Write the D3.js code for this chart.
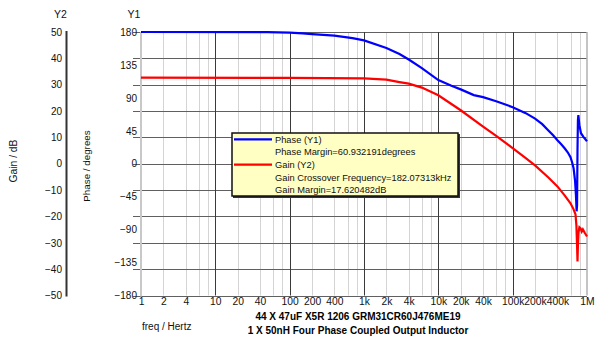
<!DOCTYPE html>
<html><head><meta charset="utf-8">
<script src="https://cdn.jsdelivr.net/npm/d3@7"></script>
<style>
html,body{margin:0;padding:0;background:#fff;}
svg{display:block;font-family:"Liberation Sans",Arial,sans-serif;}
</style></head>
<body>
<svg id="chart" width="600" height="340"></svg>
<script>
// ---- data ----
const phaseFreq = [1, 50, 100, 150, 200, 400, 700, 1e3, 2e3, 3e3, 4e3, 6e3, 1e4, 1.5e4, 2e4, 3e4, 4e4, 6e4, 1e5, 1.5e5, 2e5, 2.5e5, 3e5, 3.5e5, 4e5, 4.5e5, 5e5, 5.5e5, 6e5, 6.3e5, 6.6e5, 6.9e5, 7.1e5, 7.25e5, 7.35e5, 7.45e5, 7.55e5, 7.65e5, 7.9e5, 8.3e5, 9e5, 1e6];
const phaseDeg  = [180, 179.8, 179.1, 178, 177.1, 175, 171.6, 168.6, 158.1, 149.9, 142.4, 130.7, 114.3, 106.5, 101.6, 93.8, 91, 85.5, 77.3, 69.1, 61.6, 54.1, 45.8, 39, 32.2, 26.7, 21.2, 15.7, 8.9, 2.0, -6.2, -22.6, -43.1, -65, -56.8, 18.5, 59.5, 66.4, 52.7, 41.7, 36.3, 30.8];
const gainFreq = [1, 100, 1e3, 2e3, 3e3, 4e3, 6e3, 1e4, 2e4, 4e4, 6e4, 1e5, 1.5e5, 2e5, 3e5, 4e5, 5e5, 6e5, 6.6e5, 7e5, 7.2e5, 7.35e5, 7.45e5, 7.55e5, 7.7e5, 7.9e5, 8.2e5, 8.5e5, 8.8e5, 9.4e5, 1e6];
const gainDb   = [32.7, 32.6, 32.4, 31.9, 31.0, 30.4, 28.9, 26.0, 20.3, 14.1, 10.6, 5.9, 2.1, -0.6, -5.1, -8.6, -12.0, -15.0, -17.3, -19.2, -23.4, -31.0, -37.1, -31, -26, -24.1, -24.5, -25.7, -24.9, -26.4, -27.6];
const xTickValues = [1, 2, 4, 10, 20, 40, 100, 200, 400, 1e3, 2e3, 4e3, 1e4, 2e4, 4e4, 1e5, 2e5, 4e5, 1e6];
const xTickLabels = ["1","2","4","10","20","40","100","200","400","1k","2k","4k","10k","20k","40k","100k","200k","400k","1M"];
const y1Ticks = [180, 135, 90, 45, 0, -45, -90, -135, -180];
const y2Ticks = [50, 40, 30, 20, 10, 0, -10, -20, -30, -40, -50];
const legendLabels = ["Phase (Y1)", "Phase Margin=60.932191degrees", "Gain (Y2)", "Gain Crossover Frequency=182.07313kHz", "Gain Margin=17.620482dB"];
const legendColors = ["#0000ff", null, "#ff0000", null, null];
const titleLines = ["44 X 47uF X5R 1206 GRM31CR60J476ME19", "1 X 50nH Four Phase Coupled Output Inductor"];

// ---- scales ----
const L = 141, R = 587, T = 32, B = 295.5;
const x = d3.scaleLog().domain([1, 1e6]).range([L, R]);
const y1 = d3.scaleLinear().domain([-180, 180]).range([B, T]);
const y2 = d3.scaleLinear().domain([-50, 50]).range([B, T]);

const svg = d3.select("#chart");

// minor vertical grid (2,4,6,8 per decade)
const minor = [];
for (let d = 1; d < 1e6; d *= 10) [2,4,6,8].forEach(m => minor.push(d*m));
svg.append("g").selectAll("line").data(minor).join("line")
  .attr("x1", d => Math.round(x(d)) + 0.5).attr("x2", d => Math.round(x(d)) + 0.5)
  .attr("y1", T).attr("y2", B)
  .attr("stroke", "#d4d4d4").attr("stroke-width", 1);

// horizontal grid at Y2 ticks
svg.append("g").selectAll("line").data(y2Ticks).join("line")
  .attr("x1", 133).attr("x2", R)
  .attr("y1", d => Math.round(y2(d)) + 0.5).attr("y2", d => Math.round(y2(d)) + 0.5)
  .attr("stroke", "#606060").attr("stroke-width", 1);

// decade vertical grid
const decades = [10, 100, 1e3, 1e4, 1e5];
svg.append("g").selectAll("line").data(decades).join("line")
  .attr("x1", d => Math.round(x(d)) + 0.5).attr("x2", d => Math.round(x(d)) + 0.5)
  .attr("y1", T).attr("y2", B)
  .attr("stroke", "#3a3a3a").attr("stroke-width", 1);
svg.append("line").attr("x1", x(1e6)).attr("x2", x(1e6)).attr("y1", T).attr("y2", B)
  .attr("stroke", "#b0b0b0").attr("stroke-width", 1.5);

// Y1 axis line (light grey)
svg.append("line").attr("x1", L).attr("x2", L).attr("y1", T).attr("y2", B + 1)
  .attr("stroke", "#c8c8c8").attr("stroke-width", 2);

// Y2 axis (dark line + labels)
const y2Axis = svg.append("g").attr("transform", "translate(67,0)")
  .call(d3.axisLeft(y2).tickValues(y2Ticks).tickSize(0).tickPadding(5).tickFormat(d3.format("d")));
y2Axis.select(".domain").remove();
y2Axis.append("line").attr("x1", -0.5).attr("x2", -0.5).attr("y1", T - 1).attr("y2", B + 1)
  .attr("stroke", "#333").attr("stroke-width", 2);
y2Axis.selectAll("text").attr("font-size", "10px").attr("fill", "#111").attr("font-family", null);

// Y1 axis labels
const y1Axis = svg.append("g").attr("transform", "translate(137,0)")
  .call(d3.axisLeft(y1).tickValues(y1Ticks).tickSize(0).tickPadding(0).tickFormat(d3.format("d")));
y1Axis.select(".domain").remove();
y1Axis.selectAll("text").attr("font-size", "10px").attr("fill", "#111").attr("font-family", null);

// X axis labels
const xAxis = svg.append("g").attr("transform", `translate(0,${B})`)
  .call(d3.axisBottom(x).tickValues(xTickValues).tickSize(0).tickPadding(2)
    .tickFormat((d, i) => xTickLabels[i]));
xAxis.select(".domain").remove();
xAxis.selectAll("text").attr("font-size", "10.3px").attr("fill", "#111").attr("font-family", null);

// curves
const phaseData = phaseFreq.map((f, i) => [f, phaseDeg[i]]);
const gainData = gainFreq.map((f, i) => [f, gainDb[i]]);
svg.append("path").datum(gainData)
  .attr("d", d3.line().x(d => x(d[0])).y(d => y2(d[1])))
  .attr("fill", "none").attr("stroke", "#ff0000").attr("stroke-width", 2.2);
svg.append("path").datum(phaseData)
  .attr("d", d3.line().x(d => x(d[0])).y(d => y1(d[1])))
  .attr("fill", "none").attr("stroke", "#0000ff").attr("stroke-width", 2.2);

// axis titles
svg.append("text").attr("x", 60.5).attr("y", 18).attr("text-anchor", "middle")
  .attr("font-size", "10.5px").attr("fill", "#111").text("Y2");
svg.append("text").attr("x", 134).attr("y", 18).attr("text-anchor", "middle")
  .attr("font-size", "10.5px").attr("fill", "#111").text("Y1");
svg.append("text").attr("transform", "translate(17,161) rotate(-90)").attr("text-anchor", "middle")
  .attr("font-size", "10.3px").attr("fill", "#111").text("Gain / dB");
svg.append("text").attr("transform", "translate(90,166) rotate(-90)").attr("text-anchor", "middle")
  .attr("font-size", "9.8px").attr("fill", "#111").text("Phase / degrees");
svg.append("text").attr("x", 142).attr("y", 330)
  .attr("font-size", "10px").attr("fill", "#111").text("freq / Hertz");
svg.selectAll(".title").data(titleLines).join("text").attr("class", "title")
  .attr("x", 358).attr("y", (d, i) => 320 + i * 14).attr("text-anchor", "middle")
  .attr("font-size", "10px").attr("font-weight", "bold").attr("fill", "#000").text(d => d);

// legend
const lg = svg.append("g");
lg.append("rect").attr("x", 233).attr("y", 134).attr("width", 227).attr("height", 64).attr("fill", "#333");
lg.append("rect").attr("x", 232).attr("y", 133).attr("width", 226).attr("height", 63)
  .attr("fill", "#ffffc4").attr("stroke", "#111").attr("stroke-width", 1.5);
lg.selectAll("text").data(legendLabels).join("text")
  .attr("x", 275).attr("y", (d, i) => 139.3 + i * 12.7).attr("dy", "0.35em")
  .attr("font-size", "9.3px").attr("fill", "#111").text(d => d);
lg.selectAll("line").data(legendColors.map((c, i) => ({c, i})).filter(d => d.c)).join("line")
  .attr("x1", 234).attr("x2", 272)
  .attr("y1", d => 139.3 + d.i * 12.7).attr("y2", d => 139.3 + d.i * 12.7)
  .attr("stroke", d => d.c).attr("stroke-width", 2.2);
</script>
</body></html>
